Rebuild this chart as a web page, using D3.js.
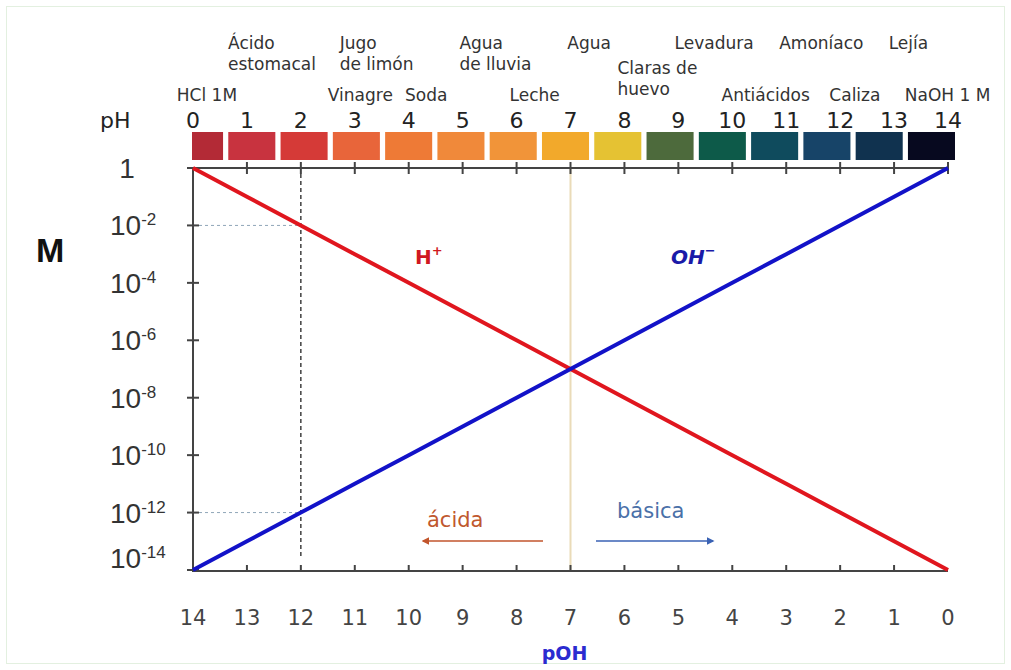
<!DOCTYPE html>
<html>
<head>
<meta charset="utf-8">
<script src="https://cdn.jsdelivr.net/npm/d3@7"></script>
<style>
  body { margin: 0; background: #fff; }
  svg { display: block; }
</style>
</head>
<body>
<div id="chart"></div>
<script>
// pH scale values
var phTicks = [0, 1, 2, 3, 4, 5, 6, 7, 8, 9, 10, 11, 12, 13, 14];
var pohTicks = [14, 13, 12, 11, 10, 9, 8, 7, 6, 5, 4, 3, 2, 1, 0];
var barColors = ["#b32a36", "#c8333f", "#d53a37", "#e8653a", "#ee7a36", "#f0893a", "#f19439",
                 "#f2a92b", "#e5c233", "#4d6a3c", "#0d5a49", "#0f4b5d", "#174468", "#10324f", "#07091f"];

// log10 of the concentrations [H+] and [OH-] at each pH
var logH = [0, -1, -2, -3, -4, -5, -6, -7, -8, -9, -10, -11, -12, -13, -14];
var logOH = [-14, -13, -12, -11, -10, -9, -8, -7, -6, -5, -4, -3, -2, -1, 0];
var yExponents = [0, -2, -4, -6, -8, -10, -12, -14];

// substances printed over the colour bar (pH where the label starts)
var substanceNames = [["Ácido", "estomacal"], ["Jugo", "de limón"], ["Agua", "de lluvia"], ["Agua"],
                      ["Levadura"], ["Amoníaco"], ["Lejía"], ["Claras de", "huevo"],
                      ["HCl 1M"], ["Vinagre"], ["Soda"], ["Leche"], ["Antiácidos"], ["Caliza"], ["NaOH 1 M"]];
var substanceAt = [0.65, 2.72, 4.94, 6.94, 8.93, 10.87, 12.9, 7.87, -0.3, 2.5, 3.93, 5.87, 9.8, 11.8, 13.2];
var substanceRow = [0, 0, 0, 0, 0, 0, 0, 1, 2, 2, 2, 2, 2, 2, 2];

var width = 1011, height = 670;
var svg = d3.select("#chart").append("svg").attr("width", width).attr("height", height);

svg.append("rect").attr("x", 6.5).attr("y", 6.5).attr("width", width - 13).attr("height", height - 13)
    .attr("fill", "#fff").attr("stroke", "#e3f0e0").attr("stroke-width", 1);

var x = d3.scaleLinear().domain([0, 14]).range([193, 948]);
var xPoh = d3.scaleLinear().domain([14, 0]).range([193, 948]);
var y = d3.scaleLinear().domain([-14, 0]).range([570, 168]);
var band = d3.scaleBand().domain(phTicks).range([176, 955]).paddingInner(0.1);

// colour bar
svg.selectAll(".seg").data(phTicks).enter().append("rect")
    .attr("x", function (d) { return Math.max(192, band(d)); })
    .attr("y", 132)
    .attr("width", function (d) { return band(d) + band.bandwidth() - Math.max(192, band(d)); })
    .attr("height", 28)
    .attr("fill", function (d, i) { return barColors[i]; });

// pH numbers above the bar
svg.selectAll(".phl").data(phTicks).enter().append("text")
    .attr("x", function (d) { return x(d); }).attr("y", 128)
    .attr("text-anchor", "middle").attr("font-family", "DejaVu Sans").attr("font-size", 22)
    .attr("fill", "#222").text(function (d) { return d; });
svg.append("text").attr("x", 100).attr("y", 128).attr("font-family", "DejaVu Sans")
    .attr("font-size", 22).attr("fill", "#222").text("pH");

// substance labels
var rowBaseline = [49, 74, 101];
substanceNames.forEach(function (lines, i) {
    var t = svg.append("text").attr("font-family", "DejaVu Sans").attr("font-size", 17).attr("fill", "#333");
    lines.forEach(function (s, j) {
        t.append("tspan").attr("x", x(substanceAt[i])).attr("y", rowBaseline[substanceRow[i]] + j * 21).text(s);
    });
});

// reference lines
svg.append("line").attr("x1", x(7)).attr("x2", x(7)).attr("y1", y(0)).attr("y2", y(-14))
    .attr("stroke", "#eadbb8").attr("stroke-width", 2);
svg.append("line").attr("x1", x(2)).attr("x2", x(2)).attr("y1", y(0) + 6).attr("y2", y(-14) - 14)
    .attr("stroke", "#222").attr("stroke-width", 1.3).attr("stroke-dasharray", "4,3");
[-2, -12].forEach(function (e) {
    svg.append("line").attr("x1", x(0)).attr("x2", x(2)).attr("y1", y(e)).attr("y2", y(e))
        .attr("stroke", "#8fa6b8").attr("stroke-width", 1).attr("stroke-dasharray", "3,3");
});

// axes
var axisColor = "#444";
svg.append("line").attr("x1", x(0)).attr("x2", x(14)).attr("y1", y(0)).attr("y2", y(0))
    .attr("stroke", axisColor).attr("stroke-width", 2);
svg.selectAll(".tt").data(phTicks.slice(1)).enter().append("line")
    .attr("x1", function (d) { return x(d); }).attr("x2", function (d) { return x(d); })
    .attr("y1", y(0) - 6).attr("y2", y(0) + 6).attr("stroke", axisColor).attr("stroke-width", 2);
svg.append("line").attr("x1", x(0)).attr("x2", x(14)).attr("y1", y(-14) + 1).attr("y2", y(-14) + 1)
    .attr("stroke", axisColor).attr("stroke-width", 2);
svg.selectAll(".bt").data(phTicks.slice(1, 14)).enter().append("line")
    .attr("x1", function (d) { return x(d); }).attr("x2", function (d) { return x(d); })
    .attr("y1", y(-14) - 5).attr("y2", y(-14)).attr("stroke", axisColor).attr("stroke-width", 2);
svg.append("line").attr("x1", x(0)).attr("x2", x(0)).attr("y1", y(0)).attr("y2", y(-14) + 2)
    .attr("stroke", axisColor).attr("stroke-width", 2);
svg.selectAll(".lt").data(yExponents).enter().append("line")
    .attr("x1", x(0) - 6).attr("x2", x(0) + 6)
    .attr("y1", function (d) { return y(d); }).attr("y2", function (d) { return y(d); })
    .attr("stroke", axisColor).attr("stroke-width", 2);

// y labels
yExponents.forEach(function (e) {
    var yy = y(e) + 10 - (e === -14 ? 12 : 0);
    if (e === 0) {
        svg.append("text").attr("x", 127).attr("y", yy).attr("text-anchor", "middle")
            .attr("font-family", "Liberation Sans").attr("font-size", 28).attr("fill", "#333").text("1");
        return;
    }
    var t = svg.append("text").attr("x", 110).attr("y", yy).attr("font-family", "Liberation Sans")
        .attr("font-size", 28).attr("fill", "#333");
    t.append("tspan").text("10");
    t.append("tspan").attr("dy", -10).attr("font-size", 17).text(e);
});
svg.append("text").attr("x", 36).attr("y", 262).attr("font-family", "Liberation Sans")
    .attr("font-weight", "bold").attr("font-size", 34).attr("fill", "#111").text("M");

// pOH labels
svg.selectAll(".pl").data(pohTicks).enter().append("text")
    .attr("x", function (d) { return xPoh(d); }).attr("y", 625)
    .attr("text-anchor", "middle").attr("font-family", "DejaVu Sans").attr("font-size", 21)
    .attr("fill", "#444").text(function (d) { return d; });
svg.append("text").attr("x", x(7) - 6).attr("y", 660).attr("text-anchor", "middle")
    .attr("font-family", "DejaVu Sans").attr("font-weight", "bold").attr("font-size", 19)
    .attr("fill", "#2b2bd0").text("pOH");

// concentration lines
var line = d3.line().x(function (d) { return x(d[0]); }).y(function (d) { return y(d[1]); });
svg.append("path").datum(phTicks.map(function (p, i) { return [p, logH[i]]; }))
    .attr("d", line).attr("fill", "none").attr("stroke", "#e0161e").attr("stroke-width", 4);
svg.append("path").datum(phTicks.map(function (p, i) { return [p, logOH[i]]; }))
    .attr("d", line).attr("fill", "none").attr("stroke", "#1212c8").attr("stroke-width", 4);

// line labels
var hl = svg.append("text").attr("x", 415).attr("y", 264).attr("font-family", "DejaVu Sans")
    .attr("font-weight", "bold").attr("font-size", 20).attr("fill", "#d01820");
hl.append("tspan").text("H");
hl.append("tspan").attr("dy", -9).attr("font-size", 13).text("+");
var ol = svg.append("text").attr("x", 671).attr("y", 264).attr("font-family", "DejaVu Sans")
    .attr("font-weight", "bold").attr("font-style", "italic").attr("font-size", 20).attr("fill", "#1a1aa8");
ol.append("tspan").text("OH");
ol.append("tspan").attr("dy", -9).attr("font-size", 13).text("−");

// ácida / básica arrows
var defs = svg.append("defs");
[["aL", "#c2552c"], ["aR", "#3a62b4"]].forEach(function (m) {
    defs.append("marker").attr("id", m[0]).attr("viewBox", "0 0 10 10").attr("refX", 8).attr("refY", 5)
        .attr("markerWidth", 5).attr("markerHeight", 5).attr("orient", "auto")
        .append("path").attr("d", "M0,0L10,5L0,10z").attr("fill", m[1]);
});
svg.append("text").attr("x", 427).attr("y", 527).attr("font-family", "DejaVu Sans").attr("font-size", 21)
    .attr("fill", "#c0582e").text("ácida");
svg.append("line").attr("x1", 543).attr("x2", 423).attr("y1", 541).attr("y2", 541)
    .attr("stroke", "#c2552c").attr("stroke-width", 1.5).attr("marker-end", "url(#aL)");
svg.append("text").attr("x", 617).attr("y", 518).attr("font-family", "DejaVu Sans").attr("font-size", 21)
    .attr("fill", "#4a70a8").text("básica");
svg.append("line").attr("x1", 596).attr("x2", 713).attr("y1", 541).attr("y2", 541)
    .attr("stroke", "#3a62b4").attr("stroke-width", 1.5).attr("marker-end", "url(#aR)");
</script>
</body>
</html>
